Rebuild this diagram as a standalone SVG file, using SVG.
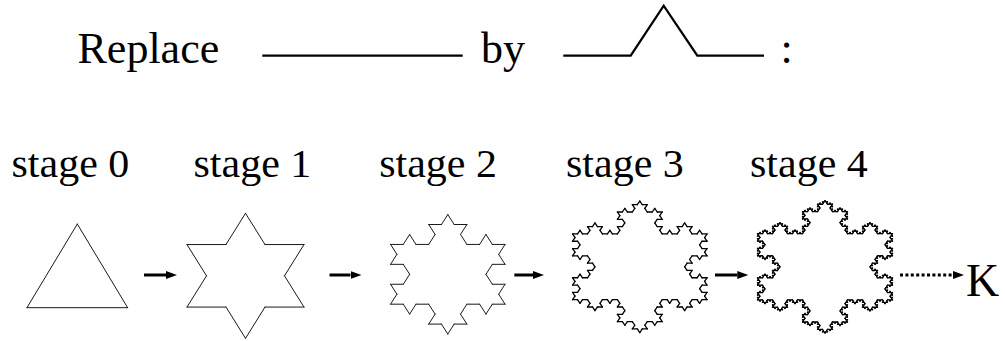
<svg xmlns="http://www.w3.org/2000/svg" xmlns:xlink="http://www.w3.org/1999/xlink" width="1005" height="341" viewBox="0 0 1005 341">
<style>
.big{font-size:44px}
.lab{font-size:42px}
.rule{fill:none;stroke:#000;stroke-width:2.3;stroke-linejoin:miter}
.flake{fill:none;stroke:#1a1a1a;stroke-width:1;stroke-linecap:round}
.dense{stroke:#000;stroke-width:1.3}
.arr{stroke:#000;stroke-width:3;fill:none}
.dot{stroke-dasharray:3 2.4}
</style>
<defs>
<marker id="head" viewBox="0 -5 12 10" markerWidth="12" markerHeight="10" refX="0" refY="0" markerUnits="userSpaceOnUse" orient="auto">
<path d="M0,-4 L11,0 L0,4 Z" fill="#000"/>
</marker>
<path id="k0" d="M0 0H1" vector-effect="non-scaling-stroke"/>
<g id="k1">
<use xlink:href="#k0" transform="scale(0.3333333)"/>
<use xlink:href="#k0" transform="translate(0.3333333 0) rotate(-60) scale(0.3333333)"/>
<use xlink:href="#k0" transform="translate(0.5 -0.2886751) rotate(60) scale(0.3333333)"/>
<use xlink:href="#k0" transform="translate(0.6666667 0) scale(0.3333333)"/>
</g>
<g id="k2">
<use xlink:href="#k1" transform="scale(0.3333333)"/>
<use xlink:href="#k1" transform="translate(0.3333333 0) rotate(-60) scale(0.3333333)"/>
<use xlink:href="#k1" transform="translate(0.5 -0.2886751) rotate(60) scale(0.3333333)"/>
<use xlink:href="#k1" transform="translate(0.6666667 0) scale(0.3333333)"/>
</g>
<g id="k3">
<use xlink:href="#k2" transform="scale(0.3333333)"/>
<use xlink:href="#k2" transform="translate(0.3333333 0) rotate(-60) scale(0.3333333)"/>
<use xlink:href="#k2" transform="translate(0.5 -0.2886751) rotate(60) scale(0.3333333)"/>
<use xlink:href="#k2" transform="translate(0.6666667 0) scale(0.3333333)"/>
</g>
<g id="k4">
<use xlink:href="#k3" transform="scale(0.3333333)"/>
<use xlink:href="#k3" transform="translate(0.3333333 0) rotate(-60) scale(0.3333333)"/>
<use xlink:href="#k3" transform="translate(0.5 -0.2886751) rotate(60) scale(0.3333333)"/>
<use xlink:href="#k3" transform="translate(0.6666667 0) scale(0.3333333)"/>
</g>
<g id="f0"><use xlink:href="#k0" transform="translate(-0.5 0.2886751) rotate(-60)"/><use xlink:href="#k0" transform="translate(0 -0.5773503) rotate(60)"/><use xlink:href="#k0" transform="translate(0.5 0.2886751) rotate(180)"/></g>
<g id="f1"><use xlink:href="#k1" transform="translate(-0.5 0.2886751) rotate(-60)"/><use xlink:href="#k1" transform="translate(0 -0.5773503) rotate(60)"/><use xlink:href="#k1" transform="translate(0.5 0.2886751) rotate(180)"/></g>
<g id="f2"><use xlink:href="#k2" transform="translate(-0.5 0.2886751) rotate(-60)"/><use xlink:href="#k2" transform="translate(0 -0.5773503) rotate(60)"/><use xlink:href="#k2" transform="translate(0.5 0.2886751) rotate(180)"/></g>
<g id="f3"><use xlink:href="#k3" transform="translate(-0.5 0.2886751) rotate(-60)"/><use xlink:href="#k3" transform="translate(0 -0.5773503) rotate(60)"/><use xlink:href="#k3" transform="translate(0.5 0.2886751) rotate(180)"/></g>
<g id="f4"><use xlink:href="#k4" transform="translate(-0.5 0.2886751) rotate(-60)"/><use xlink:href="#k4" transform="translate(0 -0.5773503) rotate(60)"/><use xlink:href="#k4" transform="translate(0.5 0.2886751) rotate(180)"/></g>
</defs>
<rect width="1005" height="341" fill="#fff"/>
<g font-family="'Liberation Serif', 'Times New Roman', serif" fill="#000">
<g id="rule">
<text class="big" x="77.5" y="62.5">Replace</text>
<path class="rule" d="M262.3 55.7H462.7"/>
<text class="big" x="481" y="62.5">by</text>
<path class="rule" d="M563.3 55.7H630.7L663.7 5.7L697.3 55.7H764"/>
<text class="big" x="780.5" y="62.5">:</text>
</g>
<g id="stage0">
<text class="lab" transform="translate(11.5 177.3) scale(1 0.93)">stage 0</text>
<g class="flake" transform="translate(77.3 279.8) scale(100.7 96.6)"><use xlink:href="#f0"/></g>
</g>
<g id="stage1">
<text class="lab" transform="translate(193.5 177.3) scale(1 0.93)">stage 1</text>
<g class="flake" transform="translate(245.5 275.8) scale(117 108.3)"><use xlink:href="#f1"/></g>
</g>
<g id="stage2">
<text class="lab" transform="translate(379.2 177.3) scale(1 0.93)">stage 2</text>
<g class="flake" transform="translate(447.8 274.3) scale(114.5 103.5)"><use xlink:href="#f2"/></g>
</g>
<g id="stage3">
<text class="lab" transform="translate(566 177.3) scale(1 0.93)">stage 3</text>
<g class="flake dense" transform="translate(639.8 266.8) scale(134.5 113.9)"><use xlink:href="#f3"/></g>
</g>
<g id="stage4">
<text class="lab" transform="translate(750 177.3) scale(1 0.93)">stage 4</text>
<g class="flake dense" transform="translate(825 266.8) scale(135 114.7)"><use xlink:href="#f4"/></g>
</g>
<g id="limit">
<text x="966" y="296" font-size="46">K</text>
</g>
</g>
<g id="connectors">
<line class="arr" x1="144" y1="275" x2="166" y2="275" marker-end="url(#head)"/>
<line class="arr" x1="329.5" y1="275" x2="350.5" y2="275" marker-end="url(#head)"/>
<line class="arr" x1="514.3" y1="275" x2="533" y2="275" marker-end="url(#head)"/>
<line class="arr" x1="715" y1="275" x2="737.3" y2="275" marker-end="url(#head)"/>
<line class="arr dot" x1="900" y1="275" x2="953" y2="275" marker-end="url(#head)"/>
</g>
</svg>
